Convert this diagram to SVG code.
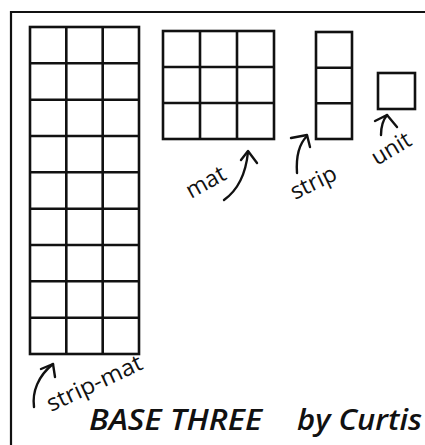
<svg xmlns="http://www.w3.org/2000/svg" width="425" height="445" viewBox="0 0 425 445">
<style>
.frame{fill:none;stroke:#111;stroke-width:2.2}
.grid{fill:none;stroke:#111;stroke-width:2.6}
.arrow{fill:none;stroke:#111;stroke-width:2.4;stroke-linecap:round;stroke-linejoin:round}
.lbl{font-family:"Open Sans","Noto Sans",sans-serif;font-size:23px;fill:#111}
.title{font-family:"Open Sans","Noto Sans",sans-serif;font-size:28px;font-style:italic;font-weight:600;fill:#111}
</style>
<rect width="425" height="445" fill="#fff"/>
<path class="frame" d="M11,445 L11,12 L425,12"/>
<g id="strip-mat">
<rect class="grid" x="30" y="27" width="109" height="327"/>
<path class="grid" d="M66.3,27 V354 M102.7,27 V354 M30,63.3 H139 M30,99.7 H139 M30,136 H139 M30,172.3 H139 M30,208.7 H139 M30,245 H139 M30,281.3 H139 M30,317.7 H139"/>
</g>
<g id="mat">
<rect class="grid" x="163" y="31" width="111" height="108"/>
<path class="grid" d="M200,31 V139 M237,31 V139 M163,67 H274 M163,103 H274"/>
</g>
<g id="strip">
<rect class="grid" x="316" y="32" width="36" height="107"/>
<path class="grid" d="M316,67.7 H352 M316,103.3 H352"/>
</g>
<g id="unit">
<rect class="grid" x="378" y="73" width="37" height="36"/>
</g>
<g id="connectors">
<path class="arrow" d="M224,200 C238,190 246,172 248,152"/>
<path class="arrow" d="M241,160 L248,151 L257,163"/>
<path class="arrow" d="M297,173 C296,158 299,144 307,136"/>
<path class="arrow" d="M291,138 L307,135 L310,147"/>
<path class="arrow" d="M381,135 C381,127 383,120 387,115"/>
<path class="arrow" d="M375,121 L387,115 L397,127"/>
<path class="arrow" d="M34,407 C32,392 38,376 53,364"/>
<path class="arrow" d="M41,369 L53,364 L55,377"/>
</g>
<g id="labels">
<text class="lbl" transform="translate(191,199) rotate(-29)">mat</text>
<text class="lbl" transform="translate(295,200) rotate(-26)">strip</text>
<text class="lbl" transform="translate(377,166) rotate(-31)">unit</text>
<text class="lbl" transform="translate(51,412) rotate(-25)" textLength="103" lengthAdjust="spacingAndGlyphs">strip-mat</text>
</g>
<g id="title">
<text class="title" x="89" y="430" textLength="173" lengthAdjust="spacingAndGlyphs">BASE THREE</text>
<text class="title" x="297" y="430" textLength="125" lengthAdjust="spacingAndGlyphs">by Curtis</text>
</g>
</svg>
